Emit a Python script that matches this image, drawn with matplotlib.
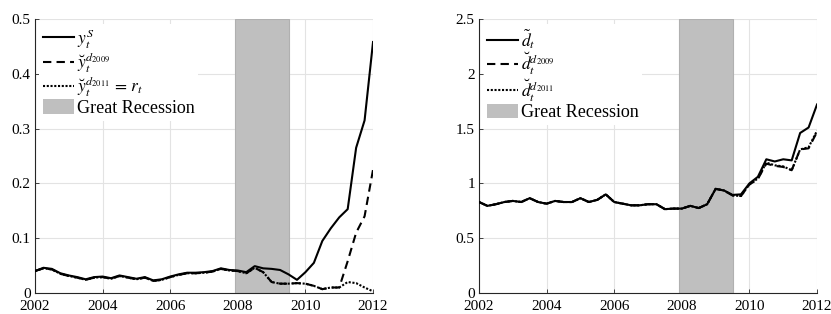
import numpy as np
import matplotlib
matplotlib.use("Agg")
import matplotlib.pyplot as plt
from matplotlib.patches import Patch
from matplotlib.lines import Line2D

plt.rcParams['font.family'] = ['Liberation Serif', 'DejaVu Serif']
plt.rcParams['mathtext.fontset'] = 'stix'

# quarterly dates 2002Q1 .. 2012Q1
years = np.arange(2002.0, 2012.01, 0.25)

# Left panel
y_S = [0.040, 0.046, 0.044, 0.036, 0.032, 0.029, 0.025, 0.029, 0.030, 0.027,
       0.032, 0.029, 0.026, 0.029, 0.023, 0.025, 0.030, 0.034, 0.037, 0.037,
       0.038, 0.040, 0.045, 0.042, 0.041, 0.038, 0.049, 0.045, 0.044, 0.042,
       0.034, 0.024, 0.038, 0.055, 0.095, 0.118, 0.138, 0.153, 0.265, 0.315, 0.458]
y_d2009 = [0.040, 0.045, 0.043, 0.035, 0.031, 0.028, 0.024, 0.028, 0.029, 0.026,
           0.031, 0.028, 0.025, 0.028, 0.022, 0.024, 0.029, 0.033, 0.036, 0.036,
           0.037, 0.039, 0.044, 0.041, 0.040, 0.036, 0.046, 0.038, 0.020, 0.017,
           0.017, 0.018, 0.017, 0.013, 0.007, 0.010, 0.010, 0.058, 0.110, 0.140, 0.225]
y_d2011 = [0.040, 0.045, 0.043, 0.035, 0.031, 0.028, 0.024, 0.028, 0.029, 0.026,
           0.031, 0.028, 0.025, 0.028, 0.022, 0.024, 0.029, 0.033, 0.036, 0.036,
           0.037, 0.039, 0.044, 0.041, 0.040, 0.036, 0.046, 0.038, 0.020, 0.017,
           0.017, 0.018, 0.017, 0.013, 0.007, 0.010, 0.010, 0.020, 0.018, 0.010, 0.003]

# Right panel
d_tilde = [0.83, 0.795, 0.81, 0.83, 0.84, 0.83, 0.865, 0.83, 0.815, 0.84,
           0.83, 0.83, 0.865, 0.83, 0.85, 0.90, 0.83, 0.815, 0.80, 0.80,
           0.81, 0.81, 0.765, 0.77, 0.77, 0.795, 0.775, 0.81, 0.95, 0.935,
           0.895, 0.90, 1.00, 1.06, 1.22, 1.20, 1.22, 1.21, 1.46, 1.51, 1.72]
d_2009 = [0.83, 0.795, 0.81, 0.83, 0.84, 0.83, 0.865, 0.83, 0.815, 0.84,
          0.83, 0.83, 0.865, 0.83, 0.85, 0.90, 0.83, 0.815, 0.80, 0.80,
          0.81, 0.81, 0.765, 0.77, 0.77, 0.795, 0.775, 0.81, 0.95, 0.935,
          0.89, 0.885, 0.99, 1.04, 1.18, 1.16, 1.15, 1.12, 1.31, 1.32, 1.47]
d_2011 = [0.83, 0.795, 0.81, 0.83, 0.84, 0.83, 0.865, 0.83, 0.815, 0.84,
          0.83, 0.83, 0.865, 0.83, 0.85, 0.90, 0.83, 0.815, 0.80, 0.80,
          0.81, 0.81, 0.765, 0.77, 0.77, 0.795, 0.775, 0.81, 0.95, 0.935,
          0.89, 0.885, 0.99, 1.045, 1.19, 1.165, 1.155, 1.12, 1.31, 1.33, 1.48]

recession = (2007.917, 2009.5)
xticks = [2002, 2004, 2006, 2008, 2010, 2012]

left_labels = [r'$y_t^S$', r'$\breve{y}_t^{d_{2009}}$', r'$\breve{y}_t^{d_{2011}}\, =\, r_t$', 'Great Recession']
right_labels = [r'$\tilde{d}_t$', r'$\breve{d}_t^{d_{2009}}$', r'$\breve{d}_t^{d_{2011}}$', 'Great Recession']

fig = plt.figure(figsize=(8.31, 3.14), dpi=100)
axL = fig.add_axes([0.0421, 0.0669, 0.4068, 0.8726])
axR = fig.add_axes([0.5764, 0.0669, 0.4068, 0.8726])

def style(ax, ylim, yticks, yticklabels):
    ax.axvspan(*recession, facecolor='#bfbfbf', edgecolor='#b0b0b0', lw=0.8, zorder=1)
    ax.set_xlim(2002, 2012)
    ax.set_ylim(*ylim)
    ax.set_xticks(xticks)
    ax.set_yticks(yticks)
    ax.set_yticklabels(yticklabels)
    ax.grid(True, color='#e3e3e3', lw=0.8, zorder=0)
    ax.set_axisbelow(True)
    for s in ['top', 'right']:
        ax.spines[s].set_visible(False)
    for s in ['left', 'bottom']:
        ax.spines[s].set_color('#262626')
        ax.spines[s].set_linewidth(0.8)
    ax.tick_params(direction='in', length=3, width=0.6, labelsize=11, colors='#262626')
    ax.tick_params(axis='x', pad=5)
    ax.tick_params(axis='y', pad=3)
    for lbl in ax.get_xticklabels() + ax.get_yticklabels():
        lbl.set_color('black')

def draw(ax, s1, s2, s3, labels):
    ax.plot(years, s1, color='black', lw=1.5, ls='-', zorder=3)
    ax.plot(years, s2, color='black', lw=1.5, ls=(0, (4, 2.5)), zorder=3)
    ax.plot(years, s3, color='black', lw=1.5, ls=(0, (1, 0.8)), zorder=3)
    handles = [Line2D([], [], color='black', lw=1.5, ls='-'),
               Line2D([], [], color='black', lw=1.5, ls=(0, (4, 2.5))),
               Line2D([], [], color='black', lw=1.5, ls=(0, (1, 0.8))),
               Patch(facecolor='#bfbfbf', edgecolor='none')]
    leg = ax.legend(handles, labels, loc='upper left', frameon=True, fontsize=13,
                    handlelength=1.7, handleheight=0.85, handletextpad=0.15,
                    labelspacing=0.0, borderaxespad=0.25, borderpad=0.2,
                    fancybox=False)
    for t in leg.get_texts()[:3]:
        t.set_fontsize(12.5)
    leg.get_frame().set_edgecolor('none')
    leg.get_frame().set_facecolor('white')
    leg.get_frame().set_alpha(1)

style(axL, (0, 0.5), [0, 0.1, 0.2, 0.3, 0.4, 0.5], ['0', '0.1', '0.2', '0.3', '0.4', '0.5'])
draw(axL, y_S, y_d2009, y_d2011, left_labels)
style(axR, (0, 2.5), [0, 0.5, 1, 1.5, 2, 2.5], ['0', '0.5', '1', '1.5', '2', '2.5'])
draw(axR, d_tilde, d_2009, d_2011, right_labels)

fig.savefig('out.png', dpi=100)
